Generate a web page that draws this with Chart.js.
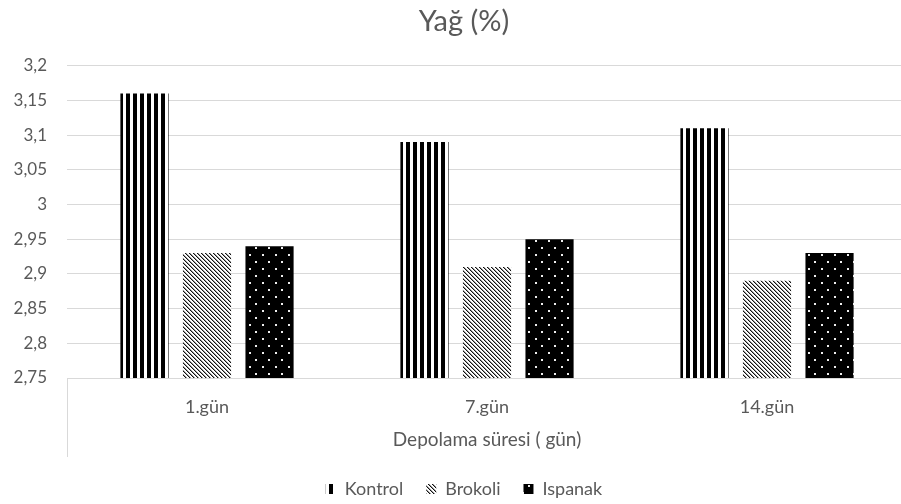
<!DOCTYPE html>
<html>
<head>
<meta charset="utf-8">
<script src="https://cdn.jsdelivr.net/npm/chart.js@4.4.1/dist/chart.umd.min.js"></script>
<style>
  html, body { margin: 0; padding: 0; overflow: hidden; background: #fff; }
  #wrap { width: 928px; height: 504px; }
</style>
</head>
<body>
<div id="wrap"><canvas id="c" width="928" height="504"></canvas></div>
<script>
// Fat content (%) by storage day
const categories = ['1.gün', '7.gün', '14.gün'];
const seriesNames = ['Kontrol', 'Brokoli', 'Ispanak'];
const kontrol = [3.16, 3.09, 3.11];
const brokoli = [2.93, 2.91, 2.89];
const ispanak = [2.94, 2.95, 2.93];
const chartTitle = 'Yağ (%)';
const xAxisTitle = 'Depolama süresi ( gün)';
const yMin = 2.75;
const yMax = 3.2;
const yStep = 0.05;

const TEXT = '#595959';
const GRID = '#d9d9d9';
const FONT = 'Lato, "Open Sans", sans-serif';

const canvas = document.getElementById('c');
const ctx = canvas.getContext('2d');

function tile(w, h, draw) {
  const t = document.createElement('canvas');
  t.width = w; t.height = h;
  draw(t.getContext('2d'));
  return ctx.createPattern(t, 'repeat');
}

// wide vertical stripes
const stripes = tile(7, 1, g => {
  g.fillStyle = '#fff'; g.fillRect(0, 0, 7, 1);
  g.fillStyle = '#000'; g.fillRect(0, 0, 4, 1);
});
// dense downward diagonal hatch
const hatch = tile(4, 4, g => {
  g.fillStyle = '#fff'; g.fillRect(0, 0, 4, 4);
  for (let y = 0; y < 4; y++) {
    g.fillStyle = '#111'; g.fillRect(y % 4, y, 1, 1);
    g.fillStyle = '#9a9a9a'; g.fillRect((y + 1) % 4, y, 1, 1);
  }
});
// black with scattered white dots
const dots = tile(13, 14, g => {
  g.fillStyle = '#000'; g.fillRect(0, 0, 13, 14);
  g.fillStyle = '#eeeeee';
  g.fillRect(2, 2, 2, 2);
  g.fillRect(8, 9, 2, 2);
});

// lower box line of the category axis (left edge)
const categoryBox = {
  id: 'categoryBox',
  afterDraw(chart) {
    const x = chart.scales.x;
    const c = chart.ctx;
    c.save();
    c.strokeStyle = GRID;
    c.lineWidth = 1;
    c.beginPath();
    c.moveTo(Math.round(x.left) + 0.5, x.top);
    c.lineTo(Math.round(x.left) + 0.5, x.bottom);
    c.stroke();
    c.restore();
  }
};

const fmt = v => String(Number(v.toFixed(2))).replace('.', ',');

new Chart(ctx, {
  type: 'bar',
  data: {
    labels: categories,
    datasets: [
      { label: seriesNames[0], data: kontrol, backgroundColor: stripes },
      { label: seriesNames[1], data: brokoli, backgroundColor: hatch },
      { label: seriesNames[2], data: ispanak, backgroundColor: dots }
    ]
  },
  options: {
    responsive: false,
    animation: false,
    devicePixelRatio: 1,
    datasets: { bar: { categoryPercentage: 0.67, barPercentage: 0.77, borderWidth: 0 } },
    layout: { padding: { left: 0, right: 0, top: 0, bottom: -4 } },
    plugins: {
      title: {
        display: true,
        text: chartTitle,
        color: TEXT,
        font: { family: FONT, size: 29, weight: 'normal' },
        padding: { top: 4, bottom: 27 }
      },
      legend: {
        position: 'bottom',
        labels: {
          boxWidth: 10,
          boxHeight: 10,
          padding: 23,
          color: TEXT,
          font: { family: FONT, size: 18 }
        }
      },
      tooltip: { enabled: false }
    },
    scales: {
      y: {
        min: yMin,
        max: yMax,
        afterFit: s => { s.width = 67; },
        ticks: {
          stepSize: yStep,
          color: TEXT,
          padding: 20,
          font: { family: FONT, size: 17 },
          callback: v => fmt(v)
        },
        grid: { color: GRID, drawTicks: false },
        border: { display: false }
      },
      // empty right-hand margin of the plot
      yRight: {
        type: 'linear',
        position: 'right',
        afterFit: s => { s.width = 21; },
        ticks: { display: false },
        grid: { display: false },
        border: { display: false }
      },
      x: {
        afterFit: s => { s.height = 79; },
        ticks: {
          color: TEXT,
          padding: 18,
          font: { family: FONT, size: 18 }
        },
        grid: { display: true, drawOnChartArea: false, drawTicks: false, color: GRID },
        border: { display: true, color: GRID },
        title: {
          display: true,
          text: xAxisTitle,
          color: TEXT,
          font: { family: FONT, size: 19 },
          padding: { top: 0, bottom: 6 }
        }
      }
    }
  },
  plugins: [categoryBox]
});
</script>
</body>
</html>
